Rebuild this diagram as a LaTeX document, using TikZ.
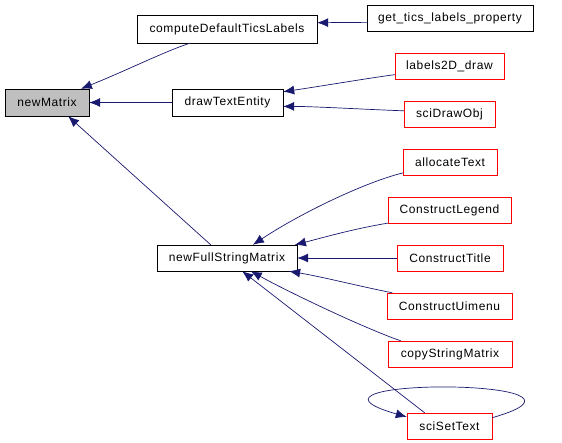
\documentclass[tikz,border=0pt]{standalone}
\usepackage{fontspec}
\setmainfont{Liberation Sans}[LetterSpace=5]
\usetikzlibrary{arrows.meta}
\definecolor{edgeblue}{HTML}{191970}
\definecolor{boxgray}{HTML}{BFBFBF}

\begin{document}
\begin{tikzpicture}[x=1pt,y=-1pt,
    fn/.style={draw, inner sep=0pt, minimum height=26, font=\fontsize{12}{14}\selectfont},
    ext/.style={fn, draw=red},
    call/.style={draw=edgeblue, line width=0.7pt, -{Latex[length=11pt,width=9pt]}}]

    \useasboundingbox (0,0) rectangle (562,442);

    % Left column
    \node[fn, fill=boxgray, minimum width=84, minimum height=27] (newmatrix) at (47,102.5) {newMatrix};

    % Middle column
    \node[fn, minimum width=180, minimum height=28] (deftics) at (227,29) {computeDefaultTicsLabels};
    \node[fn, minimum width=111, minimum height=27] (drawtext) at (227.5,102.5) {drawTextEntity};
    \node[fn, minimum width=140] (fullstring) at (227,258) {newFullStringMatrix};

    % Right column
    \node[fn, minimum width=166] (ticsprop) at (450,18) {get\_tics\_labels\_property};
    \node[ext, minimum width=109] (labels) at (449.5,66) {labels2D\_draw};
    \node[ext, minimum width=91] (drawobj) at (449.5,114) {sciDrawObj};
    \node[ext, minimum width=94] (alloc) at (450,162) {allocateText};
    \node[ext, minimum width=123] (legend) at (449.5,210) {ConstructLegend};
    \node[ext, minimum width=106] (title) at (450,258) {ConstructTitle};
    \node[ext, minimum width=125] (uimenu) at (449.5,306) {ConstructUimenu};
    \node[ext, minimum width=124] (copymat) at (450,354) {copyStringMatrix};
    \node[ext, minimum width=85] (settext) at (449.5,426) {sciSetText};

    % Calls into newMatrix
    \draw[call] (deftics.201) .. controls +(-25,8) and +(45,-18) .. (newmatrix.22);
    \draw[call] (drawtext.west) -- (newmatrix.east);
    \draw[call] (fullstring.141) -- (newmatrix.-33);

    % Calls into the middle column
    \draw[call] (ticsprop.183) -- (deftics.4);
    \draw[call] (labels.189) .. controls +(-30,4) and +(35,-5) .. (drawtext.11);
    \draw[call] (drawobj.176) .. controls +(-30,-1) and +(30,0) .. (drawtext.-4);

    % Calls into newFullStringMatrix
    \draw[call] (alloc.193) .. controls +(-40,10) and +(45,-30) .. (fullstring.27);
    \draw[call] (legend.192) .. controls +(-35,6) and +(35,-9) .. (fullstring.11);
    \draw[call] (title.west) -- (fullstring.east);
    \draw[call] (uimenu.167) .. controls +(-35,-7) and +(35,6) .. (fullstring.-12);
    \draw[call] (copymat.165) .. controls +(-35,-12) and +(40,22) .. (fullstring.-29);
    \draw[call] (settext.152) -- (fullstring.-41);

    % Recursion
    \draw[call] (settext.11) .. controls +(140,-40) and +(-140,-40) .. (settext.168);
\end{tikzpicture}
\end{document}
